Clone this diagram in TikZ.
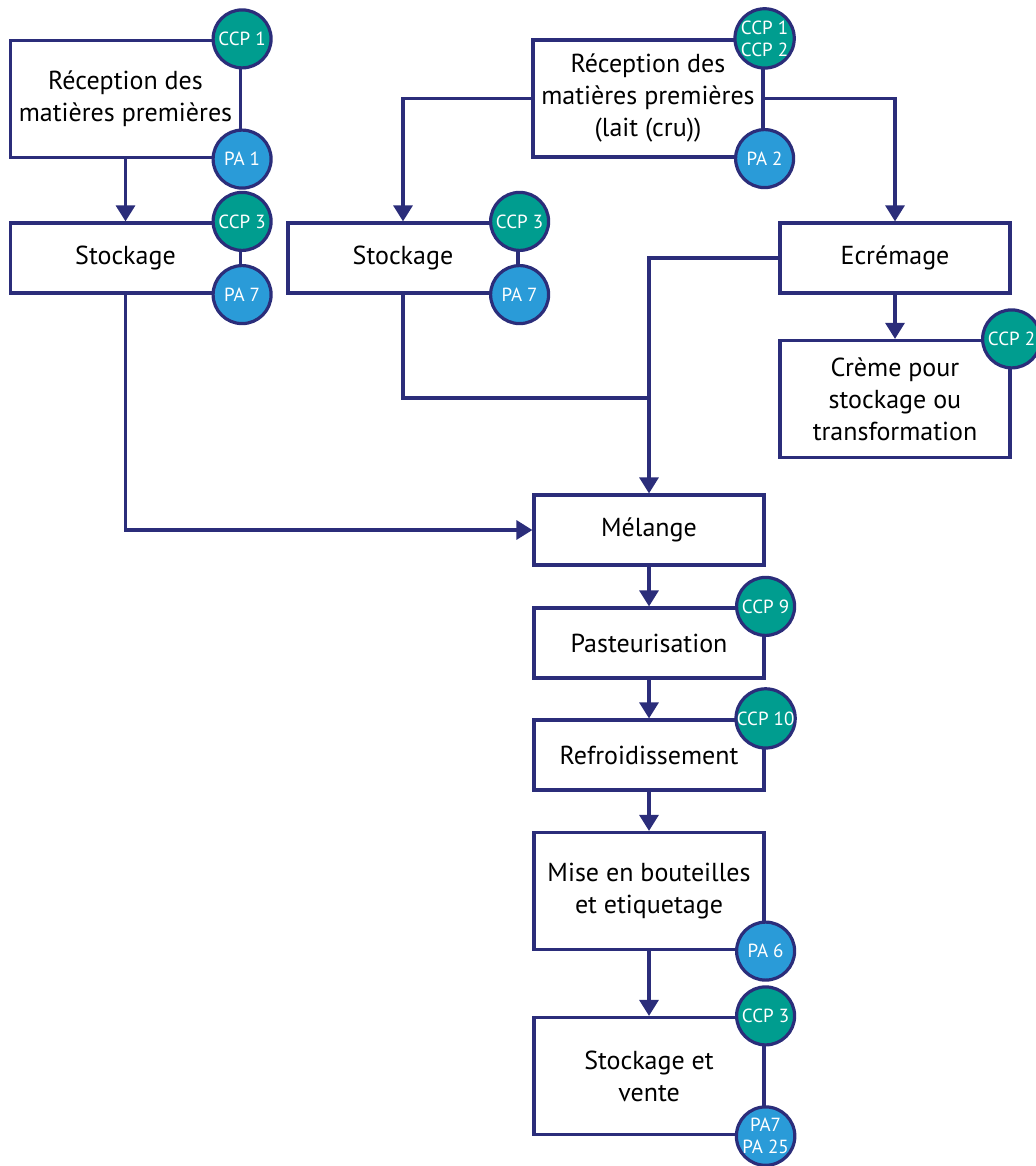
\documentclass[tikz,border=0pt]{standalone}
\usepackage{fontspec}
\setmainfont{PT Sans}
\usetikzlibrary{arrows.meta,positioning}
\definecolor{navy}{RGB}{43,45,122}
\definecolor{ccpteal}{RGB}{0,157,143}
\definecolor{pablue}{RGB}{42,155,216}

\tikzset{
  stepbox/.style={rectangle, draw=navy, line width=1.6pt, fill=white,
    minimum width=115pt, minimum height=35pt, align=center, inner sep=2pt,
    font=\fontsize{13}{16}\selectfont},
  tallbox/.style={stepbox, minimum height=58.5pt},
  badge/.style={circle, draw=navy, line width=1.6pt, minimum size=29pt,
    inner sep=0pt, align=center, text=white,
    font=\fontsize{9.5}{11}\selectfont},
  ccp/.style={badge, fill=ccpteal},
  pa/.style={badge, fill=pablue},
  flow/.style={draw=navy, line width=1.6pt},
  arr/.style={flow, -{Triangle[length=8pt, width=9.5pt]}}
}

\begin{document}
\begin{tikzpicture}[x=0.5pt,y=-0.5pt]
  \useasboundingbox (0,0) rectangle (1036,1166);
  % process steps
  \node[tallbox] (recA) at (125.5,99) {Réception des\\matières premières};
  \node[stepbox] (stoA) at (125.5,258) {Stockage};
  \node[tallbox] (recB) at (648,98.5) {Réception des\\matières premières\\(lait (cru))};
  \node[stepbox] (stoB) at (403,258) {Stockage};
  \node[stepbox] (ecr) at (895,258) {Ecrémage};
  \node[tallbox] (creme) at (895,399) {Crème pour\\stockage ou\\transformation};
  \node[stepbox] (mel) at (649,530) {Mélange};
  \node[stepbox] (past) at (649,643) {Pasteurisation};
  \node[stepbox] (refr) at (649,755) {Refroidissement};
  \node[tallbox] (mise) at (649,891) {Mise en bouteilles\\et etiquetage};
  \node[tallbox] (vente) at (649,1076) {Stockage et\\vente};
  % flows
  \coordinate (merge) at (649,398);
  \draw[arr] (recA) -- (stoA);
  \draw[arr] (recB.west) -| (stoB.north);
  \draw[arr] (recB.east) -| (ecr.north);
  \draw[arr] (ecr) -- (creme);
  \draw[arr] (ecr.west) -| (mel.north);
  \draw[flow] (stoB.south) |- (merge);
  \draw[arr] (stoA.south) |- (mel.west);
  \draw[arr] (mel) -- (past);
  \draw[arr] (past) -- (refr);
  \draw[arr] (refr) -- (mise);
  \draw[arr] (mise) -- (vente);
  % CCP / PA badges
  \node[ccp] (recA-ccp) at (recA.north east) {CCP 1};
  \node[pa] (recA-pa) at (recA.south east) {PA 1};
  \node[ccp] (stoA-ccp) at (stoA.north east) {CCP 3};
  \node[pa] (stoA-pa) at (stoA.south east) {PA 7};
  \node[ccp] (stoB-ccp) at (stoB.north east) {CCP 3};
  \node[pa] (stoB-pa) at (stoB.south east) {PA 7};
  \node[ccp] (recB-ccp) at (recB.north east) {CCP 1\\CCP 2};
  \node[pa] (recB-pa) at (recB.south east) {PA 2};
  \node[ccp] (creme-ccp) at (creme.north east) {CCP 2};
  \node[ccp] (past-ccp) at (past.north east) {CCP 9};
  \node[ccp] (refr-ccp) at (refr.north east) {CCP 10};
  \node[pa] (mise-pa) at (mise.south east) {PA 6};
  \node[ccp] (vente-ccp) at (vente.north east) {CCP 3};
  \node[pa] (vente-pa) at (vente.south east) {PA7\\PA 25};
\end{tikzpicture}
\end{document}
